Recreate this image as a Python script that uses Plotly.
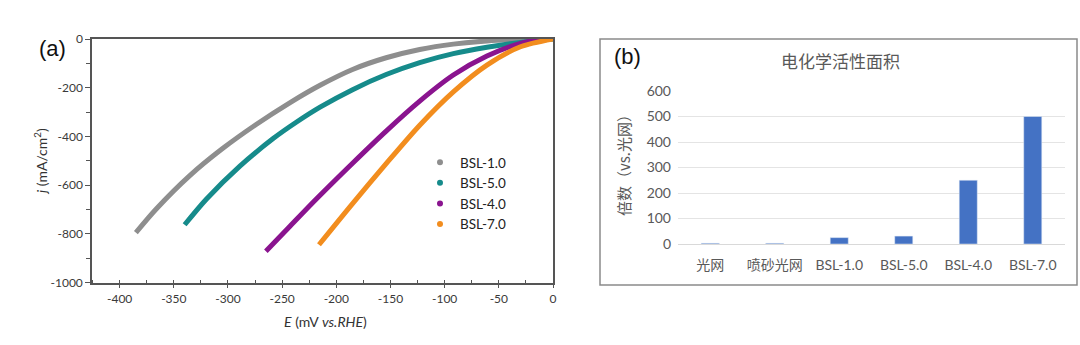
import plotly.graph_objects as go

# ---- Panel (a): polarization curves ----
names_a = ["BSL-1.0", "BSL-5.0", "BSL-4.0", "BSL-7.0"]
colors_a = ["#8e8e8e", "#168b8b", "#8a148f", "#f28d1e"]

E_bsl10 = [-385, -366, -335, -305, -274, -243, -215, -185, -154, -123, -92, -61, -30, 0]
j_bsl10 = [-795, -697, -560, -450, -351, -262, -190, -125, -77, -43, -21, -8, -2, 0]

E_bsl50 = [-340, -320, -289, -258, -237, -215, -185, -154, -123, -92, -61, -30, 0]
j_bsl50 = [-763, -658, -522, -408, -342, -280, -208, -146, -97, -60, -34, -14, 0]

E_bsl40 = [-265, -243, -218, -185, -154, -123, -92, -61, -30, -10]
j_bsl40 = [-872, -770, -655, -510, -378, -255, -148, -70, -18, 0]

E_bsl70 = [-216, -185, -154, -123, -92, -61, -30, 0]
j_bsl70 = [-845, -676, -512, -354, -217, -107, -32, 0]

x_tickvals = [-400, -350, -300, -250, -200, -150, -100, -50, 0]
x_ticktext = ["-400", "-350", "-300", "-250", "-200", "-150", "-100", "-50", "0"]
y_tickvals = [-1000, -800, -600, -400, -200, 0]
y_ticktext = ["-1000", "-800", "-600", "-400", "-200", "0"]

# ---- Panel (b): electrochemical active area ----
cats_b = ["光网", "喷砂光网", "BSL-1.0", "BSL-5.0", "BSL-4.0", "BSL-7.0"]
vals_b = [3, 3, 25, 31, 250, 500]

series_a = [(E_bsl10, j_bsl10), (E_bsl50, j_bsl50), (E_bsl40, j_bsl40), (E_bsl70, j_bsl70)]

fig = go.Figure()

for (E, j), name, col in zip(series_a, names_a, colors_a):
    fig.add_trace(go.Scatter(x=E, y=j, mode="lines", line=dict(color=col, width=5, shape="spline", smoothing=0.8),
                             showlegend=False, xaxis="x", yaxis="y", hoverinfo="skip"))
for name, col in zip(names_a, colors_a):
    fig.add_trace(go.Scatter(x=[None], y=[None], mode="markers", name=name,
                             marker=dict(color=col, size=6), xaxis="x", yaxis="y"))

fig.add_trace(go.Bar(x=cats_b, y=vals_b, marker=dict(color="#4472c4"), showlegend=False,
                     xaxis="x2", yaxis="y2"))

W, H = 1080, 329
def px(x):
    return x / W
def py(y):
    return 1 - y / H

axis_font = dict(family="Lato, Open Sans, sans-serif", size=12, color="#3a3a3a")

def ann(text, x, y, size, color, family, angle=0):
    return dict(text=text, x=px(x), y=py(y), xref="paper", yref="paper", showarrow=False,
                xanchor="center", yanchor="middle", textangle=angle,
                font=dict(family=family, size=size, color=color))

fig.update_layout(
    width=W, height=H, margin=dict(l=0, r=0, t=0, b=0),
    paper_bgcolor="white", plot_bgcolor="white",
    bargap=0.72,
    xaxis=dict(domain=[px(92), px(553)], range=[-425.5, 0],
               tickvals=x_tickvals, ticktext=x_ticktext,
               showline=True, linecolor="#555555", linewidth=1.5, mirror=True,
               ticks="outside", ticklen=4, tickcolor="#555555", tickwidth=1,
               minor=dict(dtick=25, tick0=0, ticks="inside", ticklen=3, tickcolor="#555555"),
               showgrid=False, zeroline=False, tickfont=axis_font, anchor="y", automargin=False),
    yaxis=dict(domain=[py(282.5), py(39)], range=[-1000, 0],
               tickvals=y_tickvals, ticktext=y_ticktext,
               showline=True, linecolor="#555555", linewidth=1.5, mirror=True,
               ticks="outside", ticklen=5, tickcolor="#555555", tickwidth=1,
               minor=dict(dtick=100, tick0=0, ticks="outside", ticklen=4, tickcolor="#555555"),
               showgrid=False, zeroline=False, tickfont=axis_font, anchor="x", automargin=False),
    xaxis2=dict(domain=[px(678), px(1065)], type="category", anchor="y2",
                showline=True, linecolor="#d9d9d9", linewidth=1, ticks="",
                ticklabelstandoff=8, automargin=False,
                tickfont=dict(family="Lato, Noto Sans CJK SC, sans-serif", size=14, color="#595959")),
    yaxis2=dict(domain=[py(244), py(91)], range=[0, 600], dtick=100, anchor="x2",
                showgrid=True, gridcolor="#e4e4e4", gridwidth=1, zeroline=False, showline=False,
                ticklabelstandoff=6, automargin=False,
                tickfont=dict(family="Lato, sans-serif", size=14, color="#595959")),
    legend=dict(x=px(420), y=py(147), xanchor="left", yanchor="top",
                bgcolor="rgba(0,0,0,0)", font=dict(family="Lato, Open Sans, sans-serif", size=13.5, color="#222222"),
                tracegroupgap=0, itemwidth=30),
    shapes=[dict(type="rect", xref="paper", yref="paper", x0=px(600), x1=px(1077), y0=py(285), y1=py(39),
                 line=dict(color="#8a8a8a", width=1.5), fillcolor="rgba(0,0,0,0)")],
    annotations=[
        ann("(a)", 52, 48, 22, "#111111", "Liberation Sans, Arial"),
        ann("<i>E</i> (mV <i>vs.RHE</i>)", 325, 321, 14, "#333333", "Lato, Open Sans, sans-serif"),
        ann("<i>j</i> (mA/cm<sup>2</sup>)", 40, 162, 14, "#333333", "Lato, Open Sans, sans-serif", -90),
        ann("(b)", 627, 56, 22, "#111111", "Liberation Sans, Arial"),
        ann("电化学活性面积", 840, 60, 17, "#595959", "Noto Sans CJK SC"),
        ann("倍数（vs.光网）", 624, 161, 15, "#595959", "Noto Sans CJK SC", -90),
    ],
)

fig.write_html("out.html")
